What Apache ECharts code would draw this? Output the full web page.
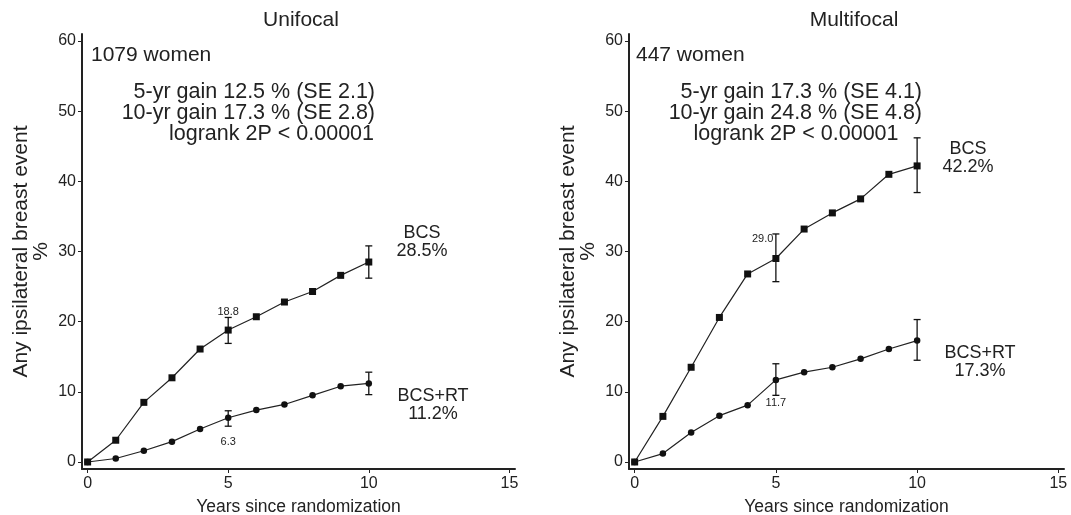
<!DOCTYPE html>
<html>
<head>
    <meta charset="utf-8">
    <title>Ipsilateral breast event</title>
    <script src="https://cdn.jsdelivr.net/npm/echarts@6/dist/echarts.min.js"></script>
    <style>
        html, body { margin: 0; padding: 0; background: #fff; }
        #mychart { width: 1071px; height: 515px; }
    </style>
</head>
<body>
<div id="mychart"></div>
<script>
    // years since randomization
    var years = [0, 1, 2, 3, 4, 5, 6, 7, 8, 9, 10];

    // unifocal
    var uniBCS = [0, 3.1, 8.5, 12.0, 16.1, 18.8, 20.7, 22.8, 24.3, 26.6, 28.5];
    var uniRT  = [0, 0.5, 1.6, 2.9, 4.7, 6.3, 7.4, 8.2, 9.5, 10.8, 11.2];
    // multifocal
    var multiBCS = [0, 6.5, 13.5, 20.6, 26.8, 29.0, 33.2, 35.5, 37.5, 41.0, 42.2];
    var multiRT  = [0, 1.2, 4.2, 6.6, 8.1, 11.7, 12.8, 13.5, 14.7, 16.1, 17.3];

    // error bars at 5 and 10 years
    var errYears = [5, 10];
    var uniBCSLow = [16.9, 26.2], uniBCSHigh = [20.6, 30.8];
    var uniRTLow = [5.1, 9.6], uniRTHigh = [7.3, 12.8];
    var multiBCSLow = [25.7, 38.4], multiBCSHigh = [32.5, 46.2];
    var multiRTLow = [9.5, 14.5], multiRTHigh = [14.0, 20.3];

    var xTicks = [0, 5, 10, 15];
    var yTicks = [0, 10, 20, 30, 40, 50, 60];

    var FONT = '"Liberation Sans", Arial, sans-serif';

    function pts(ys) {
        var out = [];
        for (var i = 0; i < years.length; i++) out.push([years[i], ys[i]]);
        return out;
    }
    function errs(lo, hi) {
        var out = [];
        for (var i = 0; i < errYears.length; i++) out.push([errYears[i], lo[i], hi[i]]);
        return out;
    }

    function errRender(params, api) {
        var x = api.value(0);
        var lo = api.coord([x, api.value(1)]);
        var hi = api.coord([x, api.value(2)]);
        var w = 3.5;
        var st = { stroke: '#111', lineWidth: 1.3 };
        return {
            type: 'group',
            children: [
                { type: 'line', shape: { x1: lo[0], y1: lo[1], x2: hi[0], y2: hi[1] }, style: st },
                { type: 'line', shape: { x1: lo[0] - w, y1: lo[1], x2: lo[0] + w, y2: lo[1] }, style: st },
                { type: 'line', shape: { x1: hi[0] - w, y1: hi[1], x2: hi[0] + w, y2: hi[1] }, style: st }
            ]
        };
    }

    function xAxis(gi) {
        return {
            type: 'value', gridIndex: gi, min: -0.2, max: 15.2,
            name: 'Years since randomization', nameLocation: 'middle', nameGap: 29,
            nameTextStyle: { fontFamily: FONT, fontSize: 17.5, color: '#222' },
            axisLine: { show: true, onZero: false, lineStyle: { color: '#222', width: 2 } },
            axisTick: { show: true, customValues: xTicks, length: 4, lineStyle: { color: '#222' } },
            axisLabel: { customValues: xTicks, fontFamily: FONT, fontSize: 16, color: '#222', margin: 7 },
            splitLine: { show: false }
        };
    }
    function yAxis(gi) {
        return {
            type: 'value', gridIndex: gi, min: -1, max: 61,
            name: 'Any ipsilateral breast event\n%', nameLocation: 'middle', nameGap: 31, nameRotate: 90,
            nameTextStyle: { fontFamily: FONT, fontSize: 21, color: '#222', lineHeight: 20, align: 'center' },
            axisLine: { show: true, onZero: false, lineStyle: { color: '#222', width: 2 } },
            axisTick: { show: true, customValues: yTicks, length: 4, lineStyle: { color: '#222' } },
            axisLabel: { customValues: yTicks, fontFamily: FONT, fontSize: 16, color: '#222', margin: 6 },
            splitLine: { show: false }
        };
    }

    function lineSeries(gi, ys, symbol, size, lab) {
        var d = pts(ys);
        var data = d.map(function (p, i) {
            var item = { value: p };
            if (i === 5 && lab) {
                item.label = {
                    show: true, formatter: ys[i].toFixed(1), position: lab.pos, offset: lab.off,
                    fontFamily: FONT, fontSize: 11, color: '#222'
                };
            }
            return item;
        });
        return {
            type: 'line', xAxisIndex: gi, yAxisIndex: gi, data: data,
            symbol: symbol, symbolSize: size, showSymbol: true,
            lineStyle: { color: '#222', width: 1.2 },
            itemStyle: { color: '#111' },
            label: { show: false },
            animation: false, z: 3
        };
    }
    function errSeries(gi, lo, hi) {
        return {
            type: 'custom', xAxisIndex: gi, yAxisIndex: gi,
            data: errs(lo, hi), renderItem: errRender, animation: false, z: 4
        };
    }

    function txt(x, y, s, size, align, lh) {
        return {
            type: 'text', x: x, y: y,
            style: { text: s, fontFamily: FONT, fontSize: size, fill: '#222', align: align || 'left', verticalAlign: 'middle', lineHeight: lh || size }
        };
    }

    var myChart = echarts.init(document.getElementById('mychart'));
    var option = {
        backgroundColor: '#fff',
        title: [
            { text: 'Unifocal', left: 296, top: 5, textAlign: 'center', textStyle: { fontFamily: FONT, fontSize: 21, fontWeight: 'normal', color: '#222' } },
            { text: 'Multifocal', left: 849, top: 5, textAlign: 'center', textStyle: { fontFamily: FONT, fontSize: 21, fontWeight: 'normal', color: '#222' } }
        ],
        grid: [
            { left: 82, top: 34, width: 433, height: 435, outerBoundsMode: 'none' },
            { left: 629, top: 34, width: 435, height: 435, outerBoundsMode: 'none' }
        ],
        xAxis: [xAxis(0), xAxis(1)],
        yAxis: [yAxis(0), yAxis(1)],
        series: [
            lineSeries(0, uniBCS, 'rect', 7, { pos: 'top', off: [0, -4] }),
            lineSeries(0, uniRT, 'circle', 6.5, { pos: 'bottom', off: [0, 10] }),
            errSeries(0, uniBCSLow, uniBCSHigh),
            errSeries(0, uniRTLow, uniRTHigh),
            lineSeries(1, multiBCS, 'rect', 7, { pos: 'left', off: [6, -20] }),
            lineSeries(1, multiRT, 'circle', 6.5, { pos: 'bottom', off: [0, 9] }),
            errSeries(1, multiBCSLow, multiBCSHigh),
            errSeries(1, multiRTLow, multiRTHigh)
        ],
        graphic: [
            txt(91, 55, '1079 women', 21),
            txt(375, 92, '5-yr gain 12.5 % (SE 2.1)', 21.5, 'right'),
            txt(375, 113, '10-yr gain 17.3 % (SE 2.8)', 21.5, 'right'),
            txt(374, 134, 'logrank 2P < 0.00001', 21.5, 'right'),
            txt(422, 242, 'BCS\n28.5%', 18, 'center', 18),
            txt(433, 405, 'BCS+RT\n11.2%', 18, 'center', 18),
            txt(636, 55, '447 women', 21),
            txt(922, 92, '5-yr gain 17.3 % (SE 4.1)', 21.5, 'right'),
            txt(922, 113, '10-yr gain 24.8 % (SE 4.8)', 21.5, 'right'),
            txt(796, 134, 'logrank 2P < 0.00001', 21.5, 'center'),
            txt(968, 158, 'BCS\n42.2%', 18, 'center', 18),
            txt(980, 362, 'BCS+RT\n17.3%', 18, 'center', 18)
        ]
    };
    myChart.setOption(option);
</script>
</body>
</html>
